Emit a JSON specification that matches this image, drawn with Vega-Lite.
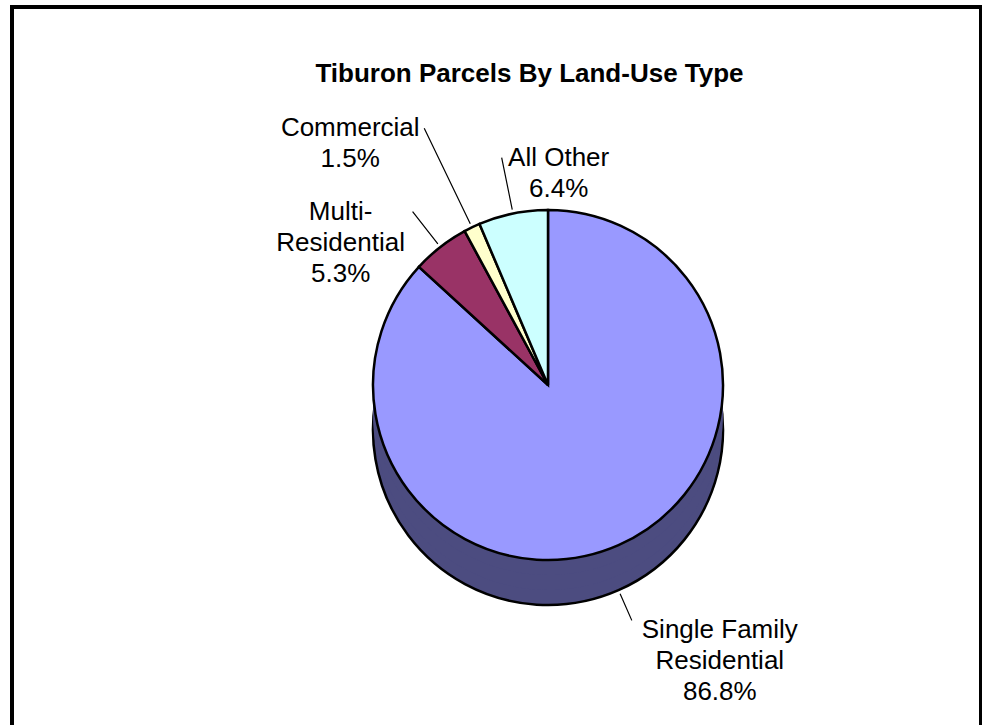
{
  "$schema": "https://vega.github.io/schema/vega-lite/v6.json",
  "autosize": "none",
  "width": 969,
  "height": 720,
  "padding": {"left": 12, "top": 7, "right": 1, "bottom": 0},
  "background": "white",
  "view": {"stroke": "black", "strokeWidth": 4, "fill": "white"},
  "config": {
    "font": "Liberation Sans"
  },
  "title": {
    "text": "Tiburon Parcels By Land-Use Type",
    "font": "Liberation Sans",
    "fontSize": 26,
    "fontWeight": "bold",
    "color": "black",
    "anchor": "middle",
    "frame": "group",
    "baseline": "alphabetic",
    "offset": 0,
    "dx": 33,
    "dy": 101
  },
  "data": {
    "values": [
      {"cat": "Single Family Residential", "label": "Single Family\nResidential\n86.8%", "value": 86.8, "order": 1},
      {"cat": "Multi-Residential", "label": "Multi-\nResidential\n5.3%", "value": 5.3, "order": 2},
      {"cat": "Commercial", "label": "Commercial\n1.5%", "value": 1.5, "order": 3},
      {"cat": "All Other", "label": "All Other\n6.4%", "value": 6.4, "order": 4}
    ]
  },
  "encoding": {
    "theta": {"field": "value", "type": "quantitative", "stack": true, "scale": {"domain": [0, 100], "range": [0, 6.283185307179586]}},
    "order": {"field": "order", "type": "quantitative"}
  },
  "layer": [
    {
      "mark": {"type": "arc", "radius": 175, "xOffset": 51.5, "yOffset": 63, "stroke": "black", "strokeWidth": 2.5},
      "encoding": {"color": {"field": "cat", "type": "nominal", "legend": null, "scale": {"domain": ["Single Family Residential", "Multi-Residential", "Commercial", "All Other"], "range": ["#4c4c80", "#4d1a33", "#808066", "#668080"]}}}
    },
    {
      "mark": {"type": "arc", "radius": 175, "xOffset": 51.5, "yOffset": 48},
      "encoding": {"color": {"field": "cat", "type": "nominal", "legend": null, "scale": {"domain": ["Single Family Residential", "Multi-Residential", "Commercial", "All Other"], "range": ["#4c4c80", "#4d1a33", "#808066", "#668080"]}}}
    },
    {
      "mark": {"type": "arc", "radius": 175, "xOffset": 51.5, "yOffset": 33},
      "encoding": {"color": {"field": "cat", "type": "nominal", "legend": null, "scale": {"domain": ["Single Family Residential", "Multi-Residential", "Commercial", "All Other"], "range": ["#4c4c80", "#4d1a33", "#808066", "#668080"]}}}
    },
    {
      "mark": {"type": "arc", "radius": 175, "xOffset": 51.5, "yOffset": 18},
      "encoding": {"color": {"field": "cat", "type": "nominal", "legend": null, "scale": {"domain": ["Single Family Residential", "Multi-Residential", "Commercial", "All Other"], "range": ["#4c4c80", "#4d1a33", "#808066", "#668080"]}}}
    },
    {
      "mark": {"type": "arc", "radius": 175, "xOffset": 51.5, "yOffset": 18, "stroke": "black", "strokeWidth": 2.5},
      "encoding": {"color": {"field": "cat", "type": "nominal", "legend": null, "scale": {"domain": ["Single Family Residential", "Multi-Residential", "Commercial", "All Other"], "range": ["#9999ff", "#993366", "#ffffcc", "#ccffff"]}}}
    },
    {
      "mark": {"type": "arc", "radius": 220, "radius2": 179, "padAngle": 3, "fillOpacity": 0, "strokeWidth": 1.2, "xOffset": 51.5, "yOffset": 18},
      "encoding": {"stroke": {"condition": {"test": "datum.cat === 'Multi-Residential'", "value": "black"}, "value": "transparent"}}
    },
    {
      "mark": {"type": "arc", "radius": 285, "radius2": 179, "padAngle": 3, "fillOpacity": 0, "strokeWidth": 1.2, "xOffset": 51.5, "yOffset": 18},
      "encoding": {"stroke": {"condition": {"test": "datum.cat === 'Commercial'", "value": "black"}, "value": "transparent"}}
    },
    {
      "mark": {"type": "arc", "radius": 232, "radius2": 179, "padAngle": 3, "fillOpacity": 0, "strokeWidth": 1.2, "xOffset": 51.5, "yOffset": 18},
      "encoding": {"stroke": {"condition": {"test": "datum.cat === 'All Other'", "value": "black"}, "value": "transparent"}}
    },
    {
      "mark": {"type": "arc", "radius": 208, "radius2": 179, "padAngle": 3, "fillOpacity": 0, "strokeWidth": 1.2, "xOffset": 51.5, "yOffset": 63},
      "encoding": {
        "theta": {"field": "value", "type": "quantitative", "stack": true, "scale": {"domain": [0, 100], "range": [1.425, 4.425]}},
        "stroke": {"condition": {"test": "datum.cat === 'Single Family Residential'", "value": "black"}, "value": "transparent"}
      }
    },
    {
      "mark": {"type": "text", "radius": 220, "xOffset": 51.5, "yOffset": 18, "dx": -72, "fontSize": 26, "lineHeight": 31, "lineBreak": "\n", "align": "center", "baseline": "middle", "color": "black"},
      "encoding": {"text": {"condition": {"test": "datum.cat === 'Multi-Residential'", "field": "label"}, "value": ""}}
    },
    {
      "mark": {"type": "text", "radius": 285, "xOffset": 51.5, "yOffset": 18, "dx": -74, "fontSize": 26, "lineHeight": 31, "lineBreak": "\n", "align": "center", "baseline": "middle", "color": "black"},
      "encoding": {"text": {"condition": {"test": "datum.cat === 'Commercial'", "field": "label"}, "value": ""}}
    },
    {
      "mark": {"type": "text", "radius": 232, "xOffset": 51.5, "yOffset": 18, "dx": 57, "fontSize": 26, "lineHeight": 31, "lineBreak": "\n", "align": "center", "baseline": "middle", "color": "black"},
      "encoding": {"text": {"condition": {"test": "datum.cat === 'All Other'", "field": "label"}, "value": ""}}
    },
    {
      "mark": {"type": "text", "radius": 208, "xOffset": 51.5, "yOffset": 63, "dx": 88, "dy": 10, "fontSize": 26, "lineHeight": 31, "lineBreak": "\n", "align": "center", "baseline": "middle", "color": "black"},
      "encoding": {"text": {"condition": {"test": "datum.cat === 'Single Family Residential'", "field": "label"}, "value": ""}}
    }
  ],
  "resolve": {"scale": {"color": "independent", "stroke": "independent", "theta": "independent"}}
}
